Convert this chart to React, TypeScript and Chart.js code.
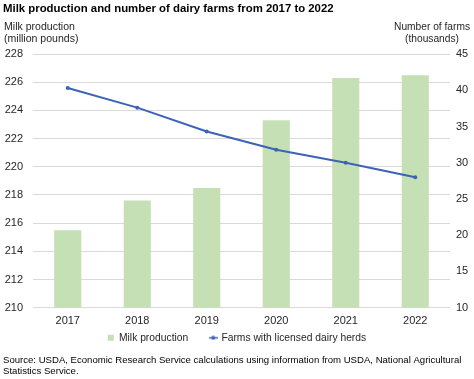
import React, { useEffect, useRef } from "react";
import { Chart, registerables } from "chart.js";

Chart.register(...registerables);

const years = ["2017", "2018", "2019", "2020", "2021", "2022"];
const milkProduction = [215.5, 217.6, 218.5, 223.3, 226.3, 226.5];
const farms = [40.3, 37.6, 34.3, 31.8, 30.0, 28.0];
const titleText = "Milk production and number of dairy farms from 2017 to 2022";
const leftAxisTitle = ["Milk production", "(million pounds)"];
const rightAxisTitle = ["Number of farms", "(thousands)"];
const sourceLines = [
  "Source: USDA, Economic Research Service calculations using information from USDA, National Agricultural",
  "Statistics Service.",
];

const FONT = "'Liberation Sans', Arial, sans-serif";
const GREEN = "#c5e0b4";
const BLUE = "#3c63b8";

function makeLineMarker(): HTMLCanvasElement {
  const c = document.createElement("canvas");
  c.width = 9;
  c.height = 5;
  const ctx = c.getContext("2d")!;
  ctx.strokeStyle = BLUE;
  ctx.lineWidth = 1.5;
  ctx.beginPath();
  ctx.moveTo(0, 2.5);
  ctx.lineTo(9, 2.5);
  ctx.stroke();
  ctx.fillStyle = BLUE;
  ctx.beginPath();
  ctx.arc(4.5, 2.5, 2, 0, Math.PI * 2);
  ctx.fill();
  return c;
}

function fitFont(ctx: CanvasRenderingContext2D, text: string, weight: string, target: number) {
  ctx.font = `${weight} 10px ${FONT}`;
  const w = ctx.measureText(text).width;
  const size = (10 * target) / w;
  ctx.font = `${weight} ${size.toFixed(2)}px ${FONT}`;
}

const legendShift = {
  id: "legendShift",
  afterLayout(chart: any) {
    const lg = chart.legend;
    if (lg) {
      lg.top -= 17;
      lg.bottom -= 17;
    }
  },
};

const textPlugin = {
  id: "texts",
  afterDraw(chart: any) {
    const ctx = chart.ctx as CanvasRenderingContext2D;
    ctx.save();
    ctx.fillStyle = "#000";
    ctx.textBaseline = "middle";
    ctx.textAlign = "left";
    fitFont(ctx, titleText, "bold", 331);
    ctx.fillText(titleText, 3, 9);
    ctx.fillStyle = "#262626";
    fitFont(ctx, leftAxisTitle[0], "normal", 71);
    ctx.fillText(leftAxisTitle[0], 4, 27);
    ctx.fillText(leftAxisTitle[1], 4, 39.5);
    ctx.textAlign = "center";
    fitFont(ctx, rightAxisTitle[0], "normal", 76);
    ctx.fillText(rightAxisTitle[0], 432, 27);
    ctx.fillText(rightAxisTitle[1], 432, 39.5);
    ctx.textAlign = "left";
    ctx.fillStyle = "#000";
    fitFont(ctx, sourceLines[0], "normal", 459);
    ctx.fillText(sourceLines[0], 3, 360);
    ctx.fillText(sourceLines[1], 3, 371);
    ctx.restore();
  },
};

export default function App() {
  const ref = useRef<HTMLCanvasElement>(null);
  useEffect(() => {
    const marker = makeLineMarker();
    const chart = new Chart(ref.current!, {
      type: "bar",
      data: {
        labels: years,
        datasets: [
          {
            type: "line",
            label: "Farms with licensed dairy herds",
            data: farms,
            yAxisID: "y1",
            borderColor: BLUE,
            backgroundColor: BLUE,
            borderWidth: 2,
            pointRadius: 2,
            pointStyle: "circle",
            pointBackgroundColor: BLUE,
            pointBorderWidth: 0,
            tension: 0,
            order: 0,
          } as any,
          {
            type: "bar",
            label: "Milk production",
            data: milkProduction,
            yAxisID: "y",
            backgroundColor: GREEN,
            barPercentage: 0.39,
            categoryPercentage: 1,
            order: 1,
          },
        ],
      },
      options: {
        responsive: false,
        animation: false,
        layout: { padding: { top: 54, bottom: 9, left: 0, right: 0 } },
        plugins: {
          title: { display: false },
          tooltip: { enabled: false },
          legend: {
            position: "bottom",
            reverse: true,
            labels: {
              font: { family: FONT, size: 10.3 },
              color: "#262626",
              usePointStyle: true,
              boxWidth: 6,
              boxHeight: 6,
              padding: 22,
              generateLabels: (ch: any) => {
                const items = Chart.defaults.plugins.legend.labels.generateLabels(ch);
                return items.map((it: any) => {
                  if (it.text === "Milk production") {
                    return { ...it, pointStyle: "rect", lineWidth: 0 };
                  }
                  return { ...it, pointStyle: marker, lineWidth: 0 };
                });
              },
            },
          },
        },
        scales: {
          x: {
            grid: { display: false, drawTicks: false },
            border: { display: false },
            ticks: {
              font: { family: FONT, size: 11 },
              color: "#262626",
              padding: 7,
              maxRotation: 0,
              minRotation: 0,
              autoSkip: false,
            },
            afterFit: (s: any) => {
              s.height = 20;
            },
          },
          y: {
            position: "left",
            min: 210,
            max: 228,
            ticks: { stepSize: 2, font: { family: FONT, size: 11 }, color: "#262626", padding: 10 },
            grid: { color: "#d9d9d9", drawTicks: false },
            border: { display: false },
            afterFit: (s: any) => {
              s.width = 33;
            },
          },
          y1: {
            position: "right",
            min: 10,
            max: 45,
            ticks: { stepSize: 5, font: { family: FONT, size: 11 }, color: "#262626", padding: 6 },
            grid: { display: false, drawTicks: false },
            border: { display: false },
            afterFit: (s: any) => {
              s.width = 24;
            },
          },
        },
      },
      plugins: [legendShift, textPlugin],
    });
    return () => chart.destroy();
  }, []);
  return (
    <div style={{ position: "fixed", left: 0, top: 0, width: 474, height: 379, background: "#fff" }}>
      <canvas ref={ref} width={474} height={379} />
    </div>
  );
}
